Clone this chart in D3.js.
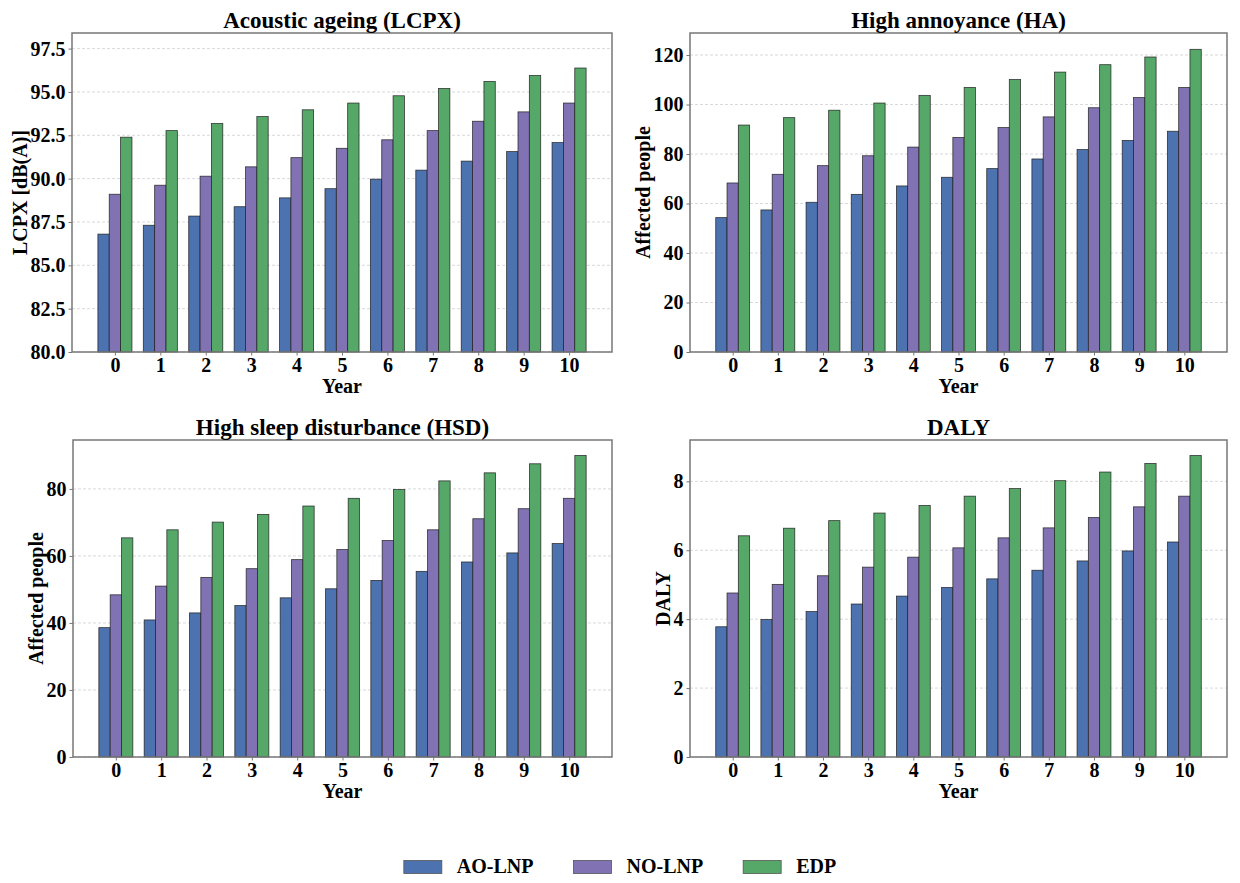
<!DOCTYPE html>
<html>
<head>
<meta charset="utf-8">
<script src="https://cdn.jsdelivr.net/npm/d3@7"></script>
<style>
  body { margin: 0; background: #fff; }
  svg text { font-family: "Liberation Serif", "Times New Roman", serif; font-weight: bold; fill: #000; }
</style>
</head>
<body>
<div id="chart"></div>
<script>
// categories
const years = [0, 1, 2, 3, 4, 5, 6, 7, 8, 9, 10];
const seriesNames = ['AO-LNP', 'NO-LNP', 'EDP'];
const seriesColors = ['#4c72b0', '#8172b3', '#55a868'];

// Acoustic ageing (LCPX) values, dB(A)
const lcpxAO  = [86.8, 87.31, 87.84, 88.38, 88.89, 89.42, 89.97, 90.49, 91.01, 91.56, 92.08];
const lcpxNO  = [89.1, 89.62, 90.14, 90.68, 91.21, 91.75, 92.24, 92.77, 93.31, 93.85, 94.36];
const lcpxEDP = [92.39, 92.77, 93.18, 93.58, 93.97, 94.36, 94.78, 95.2, 95.6, 95.95, 96.38];

// High annoyance (HA)
const haAO  = [54.3, 57.4, 60.5, 63.7, 67.1, 70.6, 74.1, 78.0, 81.8, 85.5, 89.2];
const haNO  = [68.3, 71.8, 75.3, 79.3, 82.8, 86.7, 90.7, 95.0, 98.7, 102.8, 106.9];
const haEDP = [91.7, 94.7, 97.7, 100.6, 103.7, 106.9, 110.1, 113.1, 116.1, 119.2, 122.3];

// High sleep disturbance (HSD)
const hsdAO  = [38.6, 40.9, 43.0, 45.2, 47.5, 50.2, 52.7, 55.4, 58.2, 60.9, 63.7];
const hsdNO  = [48.4, 51.0, 53.6, 56.2, 58.9, 61.9, 64.6, 67.8, 71.1, 74.1, 77.2];
const hsdEDP = [65.4, 67.8, 70.1, 72.4, 74.9, 77.2, 79.8, 82.4, 84.8, 87.5, 90.0];

// DALY
const dalyAO  = [3.78, 3.99, 4.22, 4.44, 4.67, 4.92, 5.17, 5.42, 5.69, 5.98, 6.24];
const dalyNO  = [4.76, 5.01, 5.26, 5.51, 5.8, 6.07, 6.36, 6.65, 6.95, 7.26, 7.57];
const dalyEDP = [6.42, 6.64, 6.86, 7.08, 7.3, 7.57, 7.79, 8.02, 8.27, 8.52, 8.75];

// tick labels
const lcpxTicks = [80, 82.5, 85, 87.5, 90, 92.5, 95, 97.5];
const haTicks = [0, 20, 40, 60, 80, 100, 120];
const hsdTicks = [0, 20, 40, 60, 80];
const dalyTicks = [0, 2, 4, 6, 8];

const panels = [
    { title: 'Acoustic ageing (LCPX)', ylabel: 'LCPX [dB(A)]', values: [lcpxAO, lcpxNO, lcpxEDP],
      ydomain: [80, 98.4], ticks: lcpxTicks, fmt: d3.format('.1f'),
      box: { left: 72, top: 33, right: 612, bottom: 352 } },
    { title: 'High annoyance (HA)', ylabel: 'Affected people', values: [haAO, haNO, haEDP],
      ydomain: [0, 128.9], ticks: haTicks, fmt: d3.format('d'),
      box: { left: 690, top: 33, right: 1227, bottom: 352 } },
    { title: 'High sleep disturbance (HSD)', ylabel: 'Affected people', values: [hsdAO, hsdNO, hsdEDP],
      ydomain: [0, 94.6], ticks: hsdTicks, fmt: d3.format('d'),
      box: { left: 73, top: 440, right: 612, bottom: 757 } },
    { title: 'DALY', ylabel: 'DALY', values: [dalyAO, dalyNO, dalyEDP],
      ydomain: [0, 9.2], ticks: dalyTicks, fmt: d3.format('d'),
      box: { left: 690, top: 440, right: 1227, bottom: 757 } }
];

const barWidth = 0.25;
const W = 1240, H = 883;

const svg = d3.select('#chart')
    .append('svg')
    .attr('width', W)
    .attr('height', H);

panels.forEach(p => {
    const b = p.box;
    const g = svg.append('g');

    const x = d3.scaleLinear()
        .domain([-0.945, 10.945])
        .range([b.left, b.right]);
    const y = d3.scaleLinear()
        .domain(p.ydomain)
        .range([b.bottom, b.top]);

    // grid
    g.append('g')
        .selectAll('line')
        .data(p.ticks)
        .enter()
        .append('line')
        .attr('x1', b.left)
        .attr('x2', b.right)
        .attr('y1', d => y(d))
        .attr('y2', d => y(d))
        .attr('stroke', '#cfcfcf')
        .attr('stroke-width', 0.8)
        .attr('stroke-dasharray', '3,2');

    // bars
    p.values.forEach((vals, si) => {
        g.append('g')
            .selectAll('rect')
            .data(vals)
            .enter()
            .append('rect')
            .attr('x', (d, i) => x(years[i] + (si - 1) * barWidth - barWidth / 2))
            .attr('width', x(barWidth) - x(0))
            .attr('y', d => y(d))
            .attr('height', d => y(p.ydomain[0]) - y(d))
            .attr('fill', seriesColors[si])
            .attr('stroke', '#1c1c1c')
            .attr('stroke-opacity', 0.85)
            .attr('stroke-width', 0.8);
    });

    // axes
    const xAxis = g.append('g')
        .attr('transform', `translate(0,${b.bottom})`)
        .call(d3.axisBottom(x).tickValues(years).tickSize(3.5).tickPadding(3).tickFormat(d3.format('d')));
    const yAxis = g.append('g')
        .attr('transform', `translate(${b.left},0)`)
        .call(d3.axisLeft(y).tickValues(p.ticks).tickSize(3.5).tickPadding(3).tickFormat(p.fmt));

    [xAxis, yAxis].forEach(a => {
        a.select('.domain').remove();
        a.selectAll('.tick line').attr('stroke', '#777').attr('stroke-width', 1);
        a.selectAll('.tick text').attr('font-size', 20).attr('fill', '#000');
    });
    xAxis.selectAll('.tick text').attr('y', 20).attr('dy', 0);

    // frame
    g.append('rect')
        .attr('x', b.left)
        .attr('y', b.top)
        .attr('width', b.right - b.left)
        .attr('height', b.bottom - b.top)
        .attr('fill', 'none')
        .attr('stroke', '#777')
        .attr('stroke-width', 1.5);

    // title
    g.append('text')
        .attr('x', (b.left + b.right) / 2)
        .attr('y', b.top - 5)
        .attr('text-anchor', 'middle')
        .attr('font-size', 23)
        .text(p.title);

    // x label
    g.append('text')
        .attr('x', (b.left + b.right) / 2)
        .attr('y', b.bottom + 41)
        .attr('text-anchor', 'middle')
        .attr('font-size', 20)
        .text('Year');

    // y label, placed left of the widest tick label
    let minLeft = b.left;
    yAxis.selectAll('.tick text').each(function () {
        const bb = this.getBBox();
        minLeft = Math.min(minLeft, b.left + bb.x);
    });
    const lx = minLeft - 4;
    const ly = (b.top + b.bottom) / 2;
    g.append('text')
        .attr('transform', `translate(${lx},${ly}) rotate(-90)`)
        .attr('text-anchor', 'middle')
        .attr('font-size', 20)
        .text(p.ylabel);
});

// legend
const legend = svg.append('g');
let lxPos = 0;
seriesNames.forEach((name, i) => {
    const item = legend.append('g').attr('transform', `translate(${lxPos},0)`);
    item.append('rect')
        .attr('x', 0)
        .attr('y', -12.5)
        .attr('width', 38)
        .attr('height', 13)
        .attr('fill', seriesColors[i])
        .attr('stroke', '#555')
        .attr('stroke-width', 0.8);
    const t = item.append('text')
        .attr('x', 53)
        .attr('y', 0)
        .attr('font-size', 20)
        .text(name);
    const tw = t.node().getComputedTextLength();
    lxPos += 53 + tw + 40;
});
const totalW = lxPos - 40;
legend.attr('transform', `translate(${(W - totalW) / 2},873)`);
</script>
</body>
</html>
